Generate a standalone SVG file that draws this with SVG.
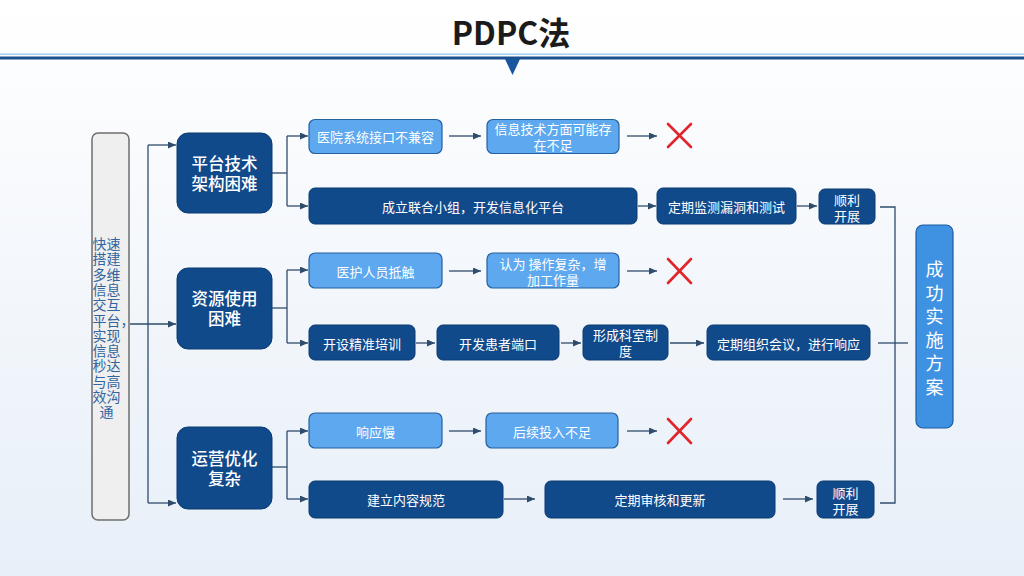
<svg xmlns="http://www.w3.org/2000/svg" width="1024" height="576" viewBox="0 0 1024 576">
<defs>
<linearGradient id="bg" x1="0" y1="0" x2="0" y2="1">
<stop offset="0" stop-color="#ffffff"/>
<stop offset="0.3" stop-color="#f8fafd"/>
<stop offset="1" stop-color="#e7eff8"/>
</linearGradient>
<marker id="ah" markerWidth="8" markerHeight="7" refX="8" refY="3.5" orient="auto" markerUnits="userSpaceOnUse">
<path d="M0,0 L8,3.5 L0,7 z" fill="#2f4c6c"/>
</marker>
<style>
text{font-family:"Noto Sans CJK SC","Noto Sans",sans-serif;text-anchor:middle;dominant-baseline:central}
.dark{fill:#114a8b;stroke:#0b3a70;stroke-width:1}
.light{fill:#5da8ee;stroke:#25609f;stroke-width:1.2}
.final{fill:#3f91e2;stroke:#1f5c9e;stroke-width:1.2}
.wt{fill:#ffffff;font-size:13px}
.cat{fill:#ffffff;font-size:16.5px;font-weight:500}
.fin{fill:#ffffff;font-size:18px}
.lt{fill:#33649e;font-size:14px}
.c{stroke:#2f4c6c;stroke-width:1.3;fill:none}
.ca{stroke:#2f4c6c;stroke-width:1.3;fill:none;marker-end:url(#ah)}
.x{stroke:#e0262a;stroke-width:2.6;stroke-linecap:round}
</style>
</defs>
<rect x="0" y="0" width="1024" height="576" fill="url(#bg)"/>
<g id="title">
<text x="511" y="30.5" style="font-size:32px;font-weight:bold;fill:#1b1b1b">PDPC法</text>
<rect x="0" y="53.5" width="1024" height="1.5" fill="#a9cdef"/>
<rect x="0" y="56.5" width="1024" height="3" fill="#1b4f8e"/>
<polygon points="505,59 520,59 512.5,75" fill="#1a55a0"/>
</g>
<g id="connectors">
<line class="c" x1="148" y1="145" x2="148" y2="503"/>
<line class="ca" x1="130" y1="324" x2="176" y2="324"/>
<line class="ca" x1="148" y1="145" x2="176" y2="145"/>
<line class="ca" x1="148" y1="503" x2="176" y2="503"/>
<line class="c" x1="272" y1="173" x2="287" y2="173"/>
<line class="c" x1="287" y1="136" x2="287" y2="206"/>
<line class="ca" x1="287" y1="136" x2="308" y2="136"/>
<line class="ca" x1="287" y1="206" x2="308" y2="206"/>
<line class="c" x1="272" y1="308" x2="287" y2="308"/>
<line class="c" x1="287" y1="270" x2="287" y2="343"/>
<line class="ca" x1="287" y1="270" x2="308" y2="270"/>
<line class="ca" x1="287" y1="343" x2="308" y2="343"/>
<line class="c" x1="272" y1="467" x2="287" y2="467"/>
<line class="c" x1="287" y1="431" x2="287" y2="499"/>
<line class="ca" x1="287" y1="431" x2="308" y2="431"/>
<line class="ca" x1="287" y1="499" x2="308" y2="499"/>
<line class="ca" x1="449" y1="136" x2="481" y2="136"/>
<line class="ca" x1="627" y1="136" x2="657" y2="136"/>
<line class="ca" x1="638" y1="206" x2="656" y2="206"/>
<line class="ca" x1="797" y1="206" x2="817" y2="206"/>
<line class="ca" x1="449" y1="271" x2="481" y2="271"/>
<line class="ca" x1="627" y1="271" x2="657" y2="271"/>
<line class="ca" x1="416" y1="343" x2="435" y2="343"/>
<line class="ca" x1="561" y1="343" x2="581" y2="343"/>
<line class="ca" x1="670" y1="343" x2="704" y2="343"/>
<line class="ca" x1="449" y1="431" x2="481" y2="431"/>
<line class="ca" x1="627" y1="431" x2="657" y2="431"/>
<line class="ca" x1="504" y1="499" x2="535" y2="499"/>
<line class="ca" x1="783" y1="499" x2="813" y2="499"/>
<polyline class="c" points="880,207 895,207 895,503 880,503"/>
<line class="c" x1="878" y1="343" x2="908" y2="343"/>
</g>
<g id="n-left">
<rect x="92" y="133" width="37" height="387" rx="6" fill="#efefef" stroke="#6d6d6d" stroke-width="1.5"/>
<text class="lt"><tspan x="106.5" y="243">快速</tspan><tspan x="106.5" y="258.3">搭建</tspan><tspan x="106.5" y="273.6">多维</tspan><tspan x="106.5" y="288.9">信息</tspan><tspan x="106.5" y="304.2">交互</tspan><tspan x="92.5" y="319.5" style="text-anchor:start">平台，</tspan><tspan x="106.5" y="334.8">实现</tspan><tspan x="106.5" y="350.1">信息</tspan><tspan x="106.5" y="365.4">秒达</tspan><tspan x="106.5" y="380.7">与高</tspan><tspan x="106.5" y="396">效沟</tspan><tspan x="106.5" y="411.3">通</tspan></text>
</g>
<g id="n-cat1">
<rect class="dark" x="177" y="133" width="95" height="80" rx="11"/>
<text class="cat"><tspan x="224.5" y="162.5">平台技术</tspan><tspan x="224.5" y="182.5">架构困难</tspan></text>
</g>
<g id="n-cat2">
<rect class="dark" x="177" y="268" width="95" height="81" rx="11"/>
<text class="cat"><tspan x="224.5" y="298">资源使用</tspan><tspan x="224.5" y="318">困难</tspan></text>
</g>
<g id="n-cat3">
<rect class="dark" x="177" y="427" width="95" height="82" rx="11"/>
<text class="cat"><tspan x="224.5" y="458">运营优化</tspan><tspan x="224.5" y="478">复杂</tspan></text>
</g>
<g id="n-r1a">
<rect class="light" x="309" y="119.5" width="133" height="34" rx="6"/>
<text class="wt" x="375.5" y="136">医院系统接口不兼容</text>
</g>
<g id="n-r1a2">
<rect class="light" x="487" y="119.5" width="132" height="34" rx="6"/>
<text class="wt"><tspan x="553" y="128">信息技术方面可能存</tspan><tspan x="553" y="144">在不足</tspan></text>
</g>
<g id="n-x1">
<line class="x" x1="668" y1="124" x2="691" y2="147"/>
<line class="x" x1="691" y1="124" x2="668" y2="147"/>
</g>
<g id="n-r1b">
<rect class="dark" x="309" y="188" width="328" height="36" rx="6"/>
<text class="wt" x="473" y="206">成立联合小组，开发信息化平台</text>
</g>
<g id="n-r1b2">
<rect class="dark" x="657" y="188" width="139" height="36" rx="6"/>
<text class="wt" x="726.5" y="206">定期监测漏洞和测试</text>
</g>
<g id="n-r1b3">
<rect class="dark" x="819" y="189" width="56" height="35" rx="6"/>
<text class="wt"><tspan x="847" y="199">顺利</tspan><tspan x="847" y="215">开展</tspan></text>
</g>
<g id="n-r2a">
<rect class="light" x="309" y="253" width="133" height="35" rx="6"/>
<text class="wt" x="375.5" y="271">医护人员抵触</text>
</g>
<g id="n-r2a2">
<rect class="light" x="487" y="253" width="132" height="35" rx="6"/>
<text class="wt"><tspan x="553" y="263">认为 操作复杂，增</tspan><tspan x="553" y="279">加工作量</tspan></text>
</g>
<g id="n-x2">
<line class="x" x1="668" y1="259" x2="691" y2="283"/>
<line class="x" x1="691" y1="259" x2="668" y2="283"/>
</g>
<g id="n-r2b">
<rect class="dark" x="309" y="325" width="106" height="35" rx="6"/>
<text class="wt" x="362" y="343">开设精准培训</text>
</g>
<g id="n-r2b2">
<rect class="dark" x="437" y="325" width="122" height="35" rx="6"/>
<text class="wt" x="498" y="343">开发患者端口</text>
</g>
<g id="n-r2b3">
<rect class="dark" x="583" y="325" width="85" height="35" rx="6"/>
<text class="wt"><tspan x="625.5" y="334">形成科室制</tspan><tspan x="625.5" y="350">度</tspan></text>
</g>
<g id="n-r2b4">
<rect class="dark" x="707" y="325" width="163" height="35" rx="6"/>
<text class="wt" x="788.5" y="343">定期组织会议，进行响应</text>
</g>
<g id="n-r3a">
<rect class="light" x="309" y="413" width="133" height="35" rx="6"/>
<text class="wt" x="375.5" y="431">响应慢</text>
</g>
<g id="n-r3a2">
<rect class="light" x="486" y="413" width="132" height="35" rx="6"/>
<text class="wt" x="552" y="431">后续投入不足</text>
</g>
<g id="n-x3">
<line class="x" x1="668" y1="419" x2="691" y2="443"/>
<line class="x" x1="691" y1="419" x2="668" y2="443"/>
</g>
<g id="n-r3b">
<rect class="dark" x="309" y="481" width="194" height="37" rx="6"/>
<text class="wt" x="406" y="499.5">建立内容规范</text>
</g>
<g id="n-r3b2">
<rect class="dark" x="545" y="481" width="230" height="37" rx="6"/>
<text class="wt" x="660" y="499.5">定期审核和更新</text>
</g>
<g id="n-r3b3">
<rect class="dark" x="817" y="481" width="57" height="37" rx="6"/>
<text class="wt"><tspan x="845.5" y="492">顺利</tspan><tspan x="845.5" y="508">开展</tspan></text>
</g>
<g id="n-final">
<rect class="final" x="916" y="225" width="37" height="203" rx="7"/>
<text class="fin"><tspan x="934.5" y="268">成</tspan><tspan x="934.5" y="291.5">功</tspan><tspan x="934.5" y="315">实</tspan><tspan x="934.5" y="338.5">施</tspan><tspan x="934.5" y="362">方</tspan><tspan x="934.5" y="385.5">案</tspan></text>
</g>
</svg>
